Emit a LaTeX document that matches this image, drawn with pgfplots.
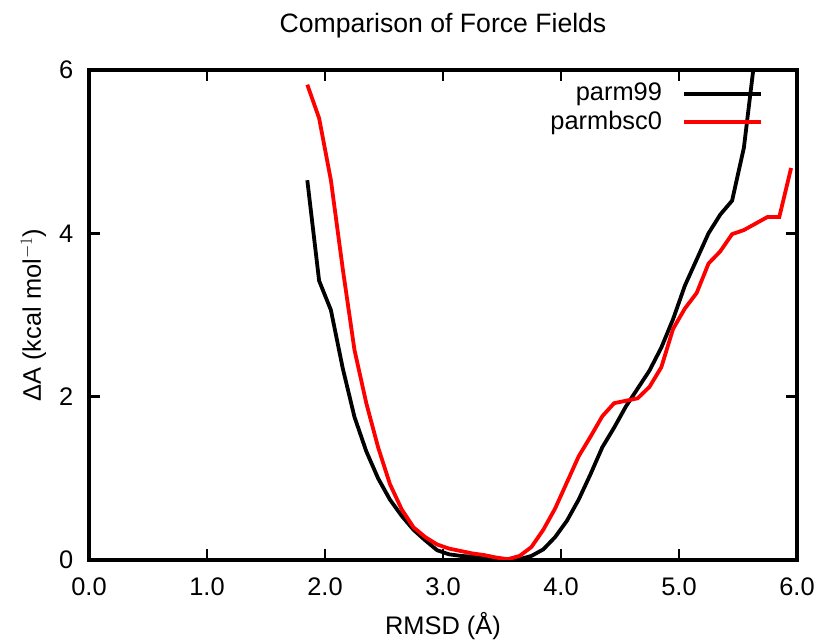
\documentclass[border=0pt]{standalone}
\usepackage{pgfplots}
\pgfplotsset{compat=1.18}
\usepackage{fontspec}
\setmainfont{Liberation Sans}
\begin{document}
\fontsize{25.5}{30}\selectfont
\begin{tikzpicture}
\begin{axis}[
  scale only axis,
  width=708bp, height=490bp,
  xmin=0, xmax=6, ymin=0, ymax=6,
  xtick={0,1,2,3,4,5,6},
  ytick={0,2,4,6},
  xticklabel style={/pgf/number format/fixed,/pgf/number format/fixed zerofill,/pgf/number format/precision=1,yshift=-9bp},
  yticklabel style={xshift=-7bp},
  /pgf/number format/assume math mode=true,
  tick align=inside,
  major tick length=11bp,
  axis line style={line width=3.5bp},
  every tick/.style={line width=2.5bp, black},
  title={Comparison of Force Fields},
  title style={yshift=17bp, font=\fontsize{26.7}{30}\selectfont},
  xlabel={RMSD (Å)},
  ylabel={ΔA (kcal mol$^{-1}$)},
  xlabel style={yshift=0bp},
  ylabel style={yshift=-4bp},
  clip=true,
  legend style={draw=none, fill=none, at={(1,1)}, anchor=north east,
    xshift=-34bp, yshift=-11bp, inner sep=0pt, row sep=2bp, column sep=18bp,
    font=\fontsize{25.5}{30}\selectfont},
  legend cell align=right,
  legend plot pos=right,
  legend image code/.code={\draw[#1] (0bp,0bp) -- (77bp,0bp);},
]
\addplot[black, line width=3.8bp] coordinates {
(1.85,4.65)(1.95,3.42)(2.05,3.06)(2.15,2.35)(2.25,1.75)(2.35,1.33)(2.45,1.00)
(2.55,0.74)(2.65,0.54)(2.75,0.37)(2.85,0.24)(2.95,0.12)(3.05,0.07)(3.15,0.05)
(3.25,0.04)(3.35,0.03)(3.45,0.02)(3.55,0.00)(3.65,0.01)(3.75,0.05)(3.85,0.13)
(3.95,0.28)(4.05,0.48)(4.15,0.74)(4.25,1.05)(4.35,1.38)(4.45,1.62)(4.55,1.88)
(4.65,2.10)(4.75,2.32)(4.85,2.60)(4.95,2.95)(5.05,3.36)(5.15,3.68)(5.25,4.00)
(5.35,4.23)(5.45,4.40)(5.55,5.05)(5.65,6.25)
};
\addlegendentry{parm99}
\addplot[red, line width=3.8bp] coordinates {
(1.85,5.82)(1.95,5.41)(2.05,4.65)(2.15,3.57)(2.25,2.57)(2.35,1.92)(2.45,1.38)
(2.55,0.93)(2.65,0.62)(2.75,0.40)(2.85,0.28)(2.95,0.19)(3.05,0.14)(3.15,0.11)
(3.25,0.08)(3.35,0.06)(3.45,0.03)(3.55,0.01)(3.65,0.05)(3.75,0.16)(3.85,0.37)
(3.95,0.63)(4.05,0.95)(4.15,1.27)(4.25,1.51)(4.35,1.76)(4.45,1.92)(4.55,1.95)
(4.65,1.98)(4.75,2.12)(4.85,2.36)(4.95,2.83)(5.05,3.08)(5.15,3.27)(5.25,3.63)
(5.35,3.78)(5.45,3.99)(5.55,4.04)(5.65,4.12)(5.75,4.20)(5.85,4.20)(5.95,4.80)
};
\addlegendentry{parmbsc0}
\end{axis}
\pgfresetboundingbox
\path (current axis.south west) ++(-89bp,-84bp) coordinate (bl);
\path (current axis.north east) ++(21bp,70bp) coordinate (tr);
\path (bl) rectangle (tr);
\end{tikzpicture}
\end{document}
